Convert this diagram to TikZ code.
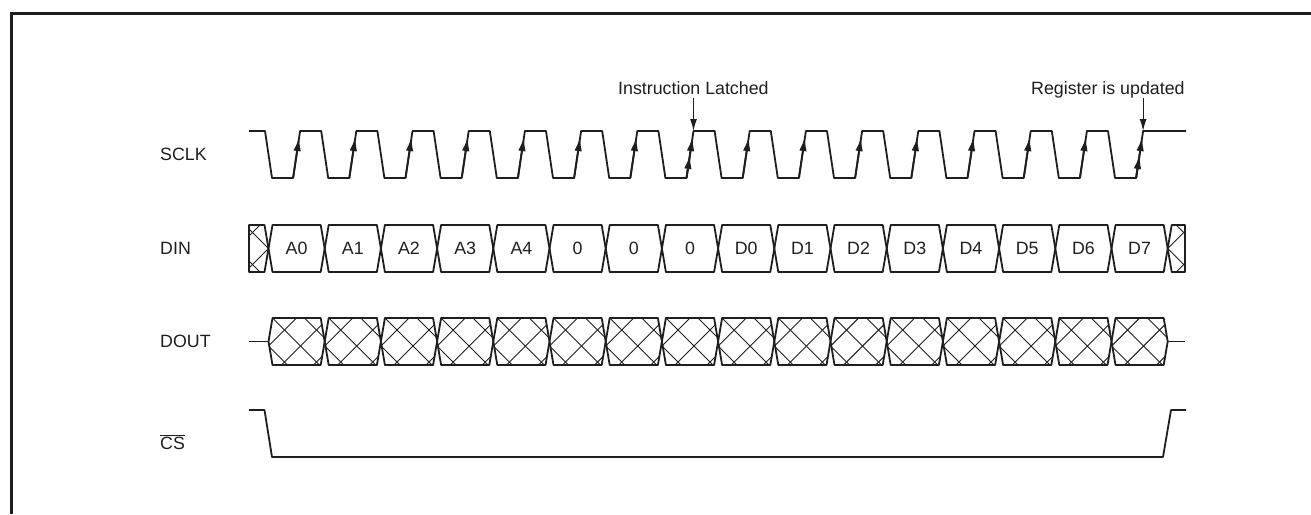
\documentclass[tikz,border=0pt]{standalone}
\usepackage{fontspec}
\setmainfont{Liberation Sans}
\usetikzlibrary{arrows.meta,calc}
\begin{document}
\begin{tikzpicture}[x=1pt,y=-1pt]
\definecolor{ink}{HTML}{1E1E1E}
\tikzset{
  wave/.style={draw=ink, line width=1.8pt, line join=round},
  hatch/.style={draw=ink, line width=0.9pt},
  lbl/.style={font=\fontsize{17.8}{20}\selectfont, inner sep=0pt, text=ink},
  edgearrow/.style={draw=ink, fill=ink, -{Latex[length=14pt,width=7.5pt]}, line width=1.8pt},
  annarrow/.style={draw=ink, -{Latex[length=12pt,width=7pt]}, line width=1.2pt},
  frame/.style={draw=ink, line width=2.5pt},
}
\useasboundingbox (0,0) rectangle (1311,514);
% frame
\draw[frame] (11.3,514) -- (11.3,13.3) -- (1311,13.3);

% signal labels
\node[lbl, anchor=west] (lsclk) at (160,154.5) {SCLK};
\node[lbl, anchor=west] (ldin) at (160,248.5) {DIN};
\node[lbl, anchor=west] (ldout) at (160,341.5) {DOUT};
\node[lbl, anchor=base west] (lcs) at (160,449) {$\overline{\mbox{CS}}$};

% SCLK
\draw[wave] (249,131)
  \foreach \k in {0,...,15} {
    -- ({268.5+56.2*\k-3.5},131) -- ({268.5+56.2*\k+3.5},178)
    -- ({296.6+56.2*\k-3.5},178) -- ({296.6+56.2*\k+3.5},131)
  } -- (1186,131);
\foreach \k in {0,...,15} {
  \coordinate (rb\k) at ({296.6+56.2*\k-3.5},178);
  \coordinate (rt\k) at ({296.6+56.2*\k+3.5},131);
  \draw[edgearrow] (rb\k) -- ($(rb\k)!0.87!(rt\k)$);
}
\draw[edgearrow] (rb7) -- ($(rb7)!0.49!(rt7)$);
\draw[edgearrow] (rb15) -- ($(rb15)!0.49!(rt15)$);

% annotations
\node[lbl, anchor=base west] (il) at (618,94) {Instruction Latched};
\node[lbl, anchor=base west] (ru) at (1031,94) {Register is updated};
\draw[annarrow] (il.base -| rt7) ++(0,4) -- (rt7);
\draw[annarrow] (ru.base -| rt15) ++(0,4) -- (rt15);

% DIN
\foreach \k/\t in {0/A0,1/A1,2/A2,3/A3,4/A4,5/0,6/0,7/0,8/D0,9/D1,10/D2,11/D3,12/D4,13/D5,14/D6,15/D7} {
  \pgfmathsetmacro\xa{268.5+56.2*\k}
  \pgfmathsetmacro\xb{\xa+56.2}
  \draw[wave] (\xa,248.5) -- (\xa+4,225) -- (\xb-4,225) -- (\xb,248.5)
    -- (\xb-4,272) -- (\xa+4,272) -- cycle;
  \node[lbl] (din\k) at ({(\xa+\xb)/2},248.5) {\t};
}
% DIN partial boxes
\begin{scope}
  \clip (249,225) -- (264.5,225) -- (268.5,248.5) -- (264.5,272) -- (249,272) -- cycle;
  \foreach \j in {-2,...,1} {
    \draw[hatch] ({20+32*\j+200},200) -- ++(90,90);
    \draw[hatch] ({517+32*\j-200},200) -- ++(-90,90);
  }
\end{scope}
\draw[wave] (249,225) -- (264.5,225) -- (268.5,248.5) -- (264.5,272) -- (249,272) -- cycle;
\begin{scope}
  \clip (1167.7,248.5) -- (1171.7,225) -- (1185,225) -- (1185,272) -- (1171.7,272) -- cycle;
  \foreach \j in {-1,...,2} {
    \draw[hatch] ({919.2+32*\j+200},200) -- ++(90,90);
    \draw[hatch] ({1416.2+32*\j-200},200) -- ++(-90,90);
  }
\end{scope}
\draw[wave] (1167.7,248.5) -- (1171.7,225) -- (1185,225) -- (1185,272) -- (1171.7,272) -- cycle;

% DOUT
\coordinate (dl0) at (249,341.5);
\coordinate (dl1) at (268.5,341.5);
\coordinate (dr0) at (1167.7,341.5);
\coordinate (dr1) at (1185,341.5);
\draw[wave] (dl0) -- (dl1);
\draw[wave] (dr0) -- (dr1);
\foreach \k in {0,...,15} {
  \pgfmathsetmacro\xa{268.5+56.2*\k}
  \pgfmathsetmacro\xb{\xa+56.2}
  \pgfmathsetmacro\xc{\xa+28.1}
  \begin{scope}
    \clip (\xa,341.5) -- (\xa+4,318) -- (\xb-4,318) -- (\xb,341.5)
      -- (\xb-4,365) -- (\xa+4,365) -- cycle;
    \foreach \j in {-2,...,2} {
      \draw[hatch] ({\xa+4-318+32*\j+300},300) -- ++(80,80);
      \draw[hatch] ({\xc+318+32*\j-300},300) -- ++(-80,80);
    }
  \end{scope}
  \draw[wave] (\xa,341.5) -- (\xa+4,318) -- (\xb-4,318) -- (\xb,341.5)
    -- (\xb-4,365) -- (\xa+4,365) -- cycle;
}

% CS
\draw[wave] (249,410) -- (264.5,410) -- (272,457) -- (1163,457) -- (1171,410) -- (1186,410);
\end{tikzpicture}
\end{document}
